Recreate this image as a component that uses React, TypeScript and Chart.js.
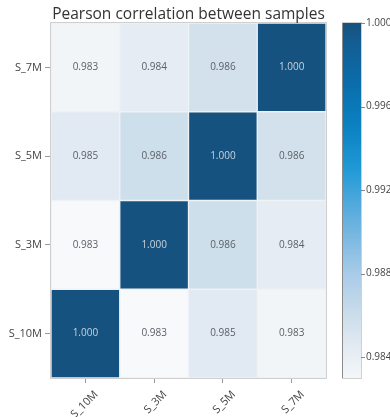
import React, { useEffect, useRef } from 'react';
import { Chart, registerables } from 'chart.js';

Chart.register(...registerables);

const xLabels = ['S_10M', 'S_3M', 'S_5M', 'S_7M'];
const yLabels = ['S_10M', 'S_3M', 'S_5M', 'S_7M']; // bottom to top
const rowS10M = [1.0, 0.9828, 0.9846, 0.9832];
const rowS3M = [0.9828, 1.0, 0.9858, 0.9843];
const rowS5M = [0.9846, 0.9858, 1.0, 0.9856];
const rowS7M = [0.9832, 0.9843, 0.9856, 1.0];
const matrix = [rowS10M, rowS3M, rowS5M, rowS7M];
const cbTicks = [0.984, 0.988, 0.992, 0.996, 1.0];
const cbMin = 0.983;
const cbMax = 1.0;
const titleText = 'Pearson correlation between samples';

const FONT = "'Open Sans', 'DejaVu Sans', sans-serif";

const stops: [number, string][] = [
  [0.9828, '#f7f9fb'],
  [0.9832, '#f1f5f8'],
  [0.9845, '#e3eaf2'],
  [0.9857, '#d0e0ec'],
  [0.988, '#a8cbe8'],
  [0.99, '#74b6e0'],
  [0.992, '#3ea3da'],
  [0.993, '#1f9ad5'],
  [0.995, '#0b82c2'],
  [0.997, '#0a6eac'],
  [0.999, '#135e94'],
  [1.0, '#16527f'],
];

function hexToRgb(h: string) {
  return [parseInt(h.slice(1, 3), 16), parseInt(h.slice(3, 5), 16), parseInt(h.slice(5, 7), 16)];
}

function colorFor(v: number) {
  if (v <= stops[0][0]) return stops[0][1];
  if (v >= stops[stops.length - 1][0]) return stops[stops.length - 1][1];
  for (let i = 0; i < stops.length - 1; i++) {
    const [a, ca] = stops[i];
    const [b, cb] = stops[i + 1];
    if (v >= a && v <= b) {
      const t = (v - a) / (b - a);
      const A = hexToRgb(ca);
      const B = hexToRgb(cb);
      const c = A.map((x, k) => Math.round(x + (B[k] - x) * t));
      return `rgb(${c[0]},${c[1]},${c[2]})`;
    }
  }
  return stops[0][1];
}

const heatPlugin = {
  id: 'heatExtras',
  afterDatasetsDraw(chart: any) {
    const ctx = chart.ctx;
    const area = chart.chartArea;
    ctx.save();
    ctx.font = `10px ${FONT}`;
    ctx.textAlign = 'center';
    ctx.textBaseline = 'middle';
    chart.data.datasets.forEach((ds: any, di: number) => {
      const meta = chart.getDatasetMeta(di);
      meta.data.forEach((el: any, i: number) => {
        const v = matrix[di][i];
        ctx.fillStyle = v > 0.994 ? '#c9d3de' : '#5a5f66';
        ctx.fillText(v.toFixed(3), el.x, (el.y + el.base) / 2);
      });
    });
    ctx.strokeStyle = '#cfcfcf';
    ctx.lineWidth = 1;
    ctx.strokeRect(area.left - 0.5, area.top - 0.5, area.right - area.left + 1, area.bottom - area.top + 1);
    ctx.restore();
  },
  afterDraw(chart: any) {
    const ctx = chart.ctx;
    const area = chart.chartArea;
    const cb = chart.scales.cb;
    ctx.save();
    ctx.font = `15.5px ${FONT}`;
    ctx.fillStyle = '#333';
    ctx.textAlign = 'center';
    ctx.textBaseline = 'alphabetic';
    ctx.fillText(titleText, (area.left + area.right) / 2, 19);
    const x0 = 343;
    const x1 = 361;
    const top = cb.getPixelForValue(cbMax);
    const bottom = cb.getPixelForValue(cbMin);
    const grad = ctx.createLinearGradient(0, bottom, 0, top);
    const cbStops = [0.983, 0.9845, 0.986, 0.988, 0.99, 0.992, 0.993, 0.995, 0.997, 0.999, 1.0];
    cbStops.forEach((v) => grad.addColorStop((v - cbMin) / (cbMax - cbMin), colorFor(v)));
    ctx.fillStyle = grad;
    ctx.fillRect(x0, top, x1 - x0, bottom - top);
    ctx.strokeStyle = '#d0d0d0';
    ctx.lineWidth = 1;
    ctx.strokeRect(x0 - 0.5, top - 0.5, x1 - x0 + 1, bottom - top + 1);
    ctx.strokeStyle = '#8a8a8a';
    ctx.beginPath();
    ctx.moveTo(x0 - 0.5, top);
    ctx.lineTo(x0 - 0.5, bottom);
    ctx.stroke();
    ctx.strokeStyle = '#888';
    ctx.beginPath();
    cbTicks.forEach((v) => {
      const y = Math.round(cb.getPixelForValue(v)) + 0.5;
      ctx.moveTo(x1, y);
      ctx.lineTo(x1 + 4, y);
    });
    ctx.stroke();
    ctx.restore();
  },
};

export default function App() {
  const ref = useRef<HTMLCanvasElement | null>(null);

  useEffect(() => {
    document.body.style.margin = '0';
    const canvas = ref.current;
    if (!canvas) return;
    const datasets = matrix.map((row, r) => ({
      label: yLabels[r],
      data: xLabels.map(() => [r, r + 1]),
      backgroundColor: row.map((v) => colorFor(v)),
      borderColor: '#eef1f5',
      borderWidth: 1,
      borderSkipped: false,
      grouped: false,
      barPercentage: 1,
      categoryPercentage: 1,
    }));
    const chart = new Chart(canvas, {
      type: 'bar',
      data: { labels: xLabels, datasets: datasets as any },
      options: {
        animation: false,
        responsive: true,
        maintainAspectRatio: false,
        layout: { padding: { top: 23, left: 0, right: 0, bottom: 0 } },
        plugins: { legend: { display: false }, tooltip: { enabled: false }, title: { display: false } },
        scales: {
          x: {
            type: 'category',
            offset: true,
            grid: { offset: false, drawOnChartArea: false, tickLength: 5, color: '#999' },
            border: { display: false },
            ticks: {
              minRotation: 45,
              maxRotation: 45,
              color: '#444',
              font: { family: FONT, size: 11 },
              padding: 5,
              labelOffset: 11,
            },
            afterFit: (s: any) => { s.height = 39; s.paddingLeft = 0; s.paddingRight = 0; },
          },
          y: {
            type: 'linear',
            min: 0,
            max: 4,
            afterBuildTicks: (s: any) => { s.ticks = [0.5, 1.5, 2.5, 3.5].map((v) => ({ value: v })); },
            ticks: {
              color: '#444',
              font: { family: FONT, size: 11 },
              padding: 3,
              callback: (v: any) => yLabels[Math.floor(Number(v))],
            },
            grid: { drawOnChartArea: false, tickLength: 6, color: '#999' },
            border: { display: false },
            afterFit: (s: any) => { s.width = 51; s.paddingTop = 0; s.paddingBottom = 0; },
          },
          cb: {
            type: 'linear',
            position: 'right',
            min: cbMin,
            max: cbMax,
            afterBuildTicks: (s: any) => { s.ticks = cbTicks.map((v) => ({ value: v })); },
            ticks: {
              color: '#444',
              font: { family: FONT, size: 10 },
              padding: 40,
              callback: (v: any) => Number(v).toFixed(3),
            },
            grid: { display: false, drawTicks: false },
            border: { display: false },
            afterFit: (s: any) => { s.width = 64; s.paddingTop = 0; s.paddingBottom = 0; },
          },
        } as any,
      },
      plugins: [heatPlugin],
    });
    return () => chart.destroy();
  }, []);

  return (
    <div style={{ width: 390, height: 417, position: 'relative' }}>
      <canvas ref={ref} />
    </div>
  );
}
